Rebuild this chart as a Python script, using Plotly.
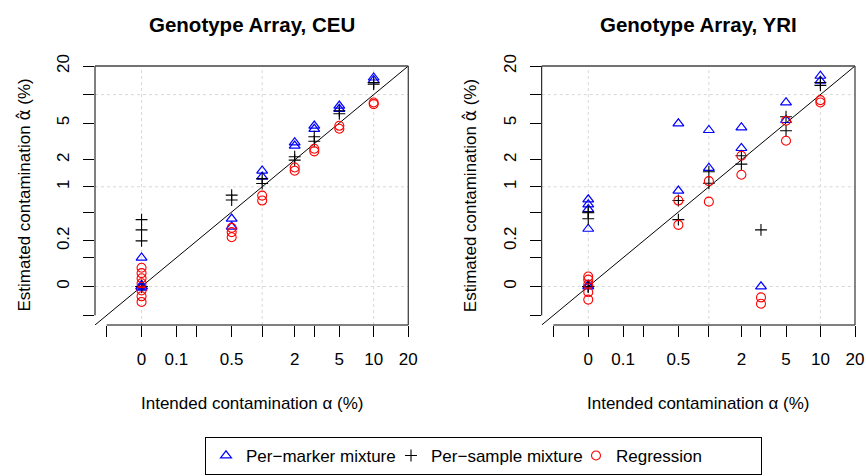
import numpy as np
import plotly.graph_objects as go

# ---------------- data (percent) ----------------
# CEU panel
ceu_marker_x = [0, 0, 0, 0, 0, 0, 0, 0.5, 0.5, 1, 1, 2, 2, 3, 3, 5, 5, 10, 10]
ceu_marker_y = [0.1, 0.0, 0.0, 0.004, 0.0, -0.003, 0.0, 0.41, 0.32, 1.52, 1.30, 3.1, 2.85, 4.67, 4.31, 7.61, 7.03, 15.1, 14.2]
ceu_sample_x = [0, 0, 0, 0, 0, 0, 0, 0.5, 0.5, 1, 1, 2, 2, 3, 3, 5, 5, 10, 10]
ceu_sample_y = [0.4, 0.29, 0.2, 0.0, 0.0, 0.0, 0.0, 0.80, 0.70, 1.24, 1.09, 2.17, 1.99, 3.56, 3.19, 6.74, 6.27, 13.4, 12.9]
ceu_regr_x = [0, 0, 0, 0, 0, 0, 0, 0.5, 0.5, 0.5, 1, 1, 2, 2, 3, 3, 5, 5, 10, 10]
ceu_regr_y = [0.057, 0.038, 0.022, 0.008, -0.009, -0.021, -0.031, 0.31, 0.27, 0.227, 0.79, 0.69, 1.65, 1.52, 2.65, 2.48, 4.67, 4.34, 8.26, 7.94]

# YRI panel
yri_marker_x = [0, 0, 0, 0, 0, 0, 0.5, 0.5, 1, 1, 2, 2, 3, 5, 5, 10, 10]
yri_marker_y = [0.71, 0.62, 0.54, 0.30, 0.0, 0.004, 4.94, 0.90, 4.2, 1.63, 4.48, 2.69, 0.0, 8.26, 5.37, 15.75, 13.96]
yri_sample_x = [0, 0, 0, 0, 0, 0, 0.5, 0.5, 1, 1, 2, 2, 3, 5, 5, 10, 10]
yri_sample_y = [0.50, 0.49, 0.41, 0.0, 0.0, 0.0, 0.69, 0.40, 1.48, 1.10, 2.22, 1.80, 0.29, 5.83, 4.14, 13.4, 12.5]
yri_regr_x = [0, 0, 0, 0, 0, 0.5, 0.5, 1, 1, 2, 2, 3, 3, 5, 5, 10, 10]
yri_regr_y = [0.027, 0.018, 0.005, -0.013, -0.027, 0.69, 0.34, 1.16, 0.67, 2.22, 1.37, -0.023, -0.034, 5.28, 3.23, 8.75, 8.26]

# axis ticks (percent) and labels
x_tick_vals = [-0.05, 0, 0.1, 0.2, 0.5, 1, 2, 3, 5, 10, 20]
x_tick_text = ["", "0", "0.1", "", "0.5", "", "2", "", "5", "10", "20"]
y_tick_vals = [-0.05, 0, 0.1, 0.2, 0.5, 1, 2, 5, 10, 20]
y_tick_text = ["", "0", "", "0.2", "", "1", "2", "5", "", "20"]
grid_vals = [0, 1, 10]

titles = ["Genotype Array, CEU", "Genotype Array, YRI"]
x_title = "Intended contamination α (%)"
y_title = ("Estimated contamination "
           "<span style='font-family:DejaVu Sans'>α\u0302</span> (%)")
series_names = ["Per\u2212marker mixture", "Per\u2212sample mixture", "Regression"]

# ---------------- helpers ----------------
OFFSET = 0.1


def tf(v):
    return np.log10(np.asarray(v, dtype=float) + OFFSET)


W, H = 866, 476
FONT = "Liberation Sans, Arial, Helvetica, sans-serif"
LO = -1.402
HI = float(tf(20))
panels_px = [(95.0, 408.3), (541.7, 855.0)]
top_px, bot_px = 66.0, 325.0
ydom = [1 - bot_px / H, 1 - top_px / H]

fig = go.Figure()

styles = [
    dict(symbol="triangle-up-open", color="#0000FF", size=9.5, line=dict(width=1.2, color="#0000FF")),
    dict(symbol="cross-thin-open", color="black", size=8.5, line=dict(width=1.1, color="black")),
    dict(symbol="circle-open", color="#FF0000", size=9, line=dict(width=1.1, color="#FF0000")),
]

panel_data = [
    [(ceu_marker_x, ceu_marker_y), (ceu_sample_x, ceu_sample_y), (ceu_regr_x, ceu_regr_y)],
    [(yri_marker_x, yri_marker_y), (yri_sample_x, yri_sample_y), (yri_regr_x, yri_regr_y)],
]

for p, series in enumerate(panel_data):
    xa = "x" if p == 0 else "x2"
    ya = "y" if p == 0 else "y2"
    for s, (xs, ys) in enumerate(series):
        fig.add_trace(go.Scatter(
            x=tf(xs), y=tf(ys), mode="markers", xaxis=xa, yaxis=ya,
            name=series_names[s], legendgroup=series_names[s], showlegend=(p == 0),
            marker=styles[s], cliponaxis=False, hoverinfo="skip",
        ))

shapes = []
annotations = []


def xp(p, v):
    x0, x1 = panels_px[p]
    return (x0 + (v - LO) / (HI - LO) * (x1 - x0)) / W


def yp(v):
    return 1 - (bot_px - (v - LO) / (HI - LO) * (bot_px - top_px)) / H


axis_common = dict(
    range=[LO, HI], showgrid=False, zeroline=False, showline=False, automargin=False,
    ticks="outside", ticklen=11, tickwidth=1, tickcolor="black",
    tickfont=dict(family=FONT, size=17, color="black"), fixedrange=True,
)

for p in range(2):
    x0, x1 = panels_px[p]
    dom = [x0 / W, x1 / W]
    xa = "xaxis" if p == 0 else "xaxis2"
    ya = "yaxis" if p == 0 else "yaxis2"
    xref = "x" if p == 0 else "x2"
    yref = "y" if p == 0 else "y2"
    fig.layout[xa] = dict(axis_common, domain=dom, anchor=yref,
                          tickvals=list(tf(x_tick_vals)), ticktext=x_tick_text,
                          tickangle=0, ticklabelstandoff=8)
    fig.layout[ya] = dict(axis_common, domain=ydom, anchor=xref,
                          tickvals=list(tf(y_tick_vals)), ticktext=y_tick_text,
                          tickangle=-90, ticklabelstandoff=7)
    # dotted grid
    for g in tf(grid_vals):
        shapes.append(dict(type="line", xref=xref, yref=yref + " domain", x0=g, x1=g, y0=0, y1=1,
                           line=dict(color="#d8d8d8", width=1, dash="dot"), layer="below"))
        shapes.append(dict(type="line", xref=xref + " domain", yref=yref, x0=0, x1=1, y0=g, y1=g,
                           line=dict(color="#d8d8d8", width=1, dash="dot"), layer="below"))
    # identity line
    shapes.append(dict(type="line", xref=xref, yref=yref, x0=LO, y0=LO, x1=HI, y1=HI,
                       line=dict(color="black", width=1), layer="below"))
    # axis lines spanning tick range
    yl0, yl1 = float(tf(y_tick_vals[0])), float(tf(y_tick_vals[-1]))
    xl0, xl1 = float(tf(x_tick_vals[0])), float(tf(x_tick_vals[-1]))
    shapes.append(dict(type="line", xref="paper", yref="paper", x0=dom[0], x1=dom[0],
                       y0=yp(yl0), y1=yp(yl1), line=dict(color="black", width=1)))
    shapes.append(dict(type="line", xref="paper", yref="paper", x0=xp(p, xl0), x1=xp(p, xl1),
                       y0=ydom[0], y1=ydom[0], line=dict(color="black", width=1)))
    # top and right border
    shapes.append(dict(type="line", xref="paper", yref="paper", x0=dom[0], x1=dom[1],
                       y0=ydom[1], y1=ydom[1], line=dict(color="#444444", width=1.3)))
    shapes.append(dict(type="line", xref="paper", yref="paper", x0=dom[1], x1=dom[1],
                       y0=ydom[0], y1=ydom[1], line=dict(color="#444444", width=1.3)))
    cx = (dom[0] + dom[1]) / 2
    annotations.append(dict(text="<b>" + titles[p] + "</b>", xref="paper", yref="paper",
                            x=cx, y=1 - 24 / H, showarrow=False, xanchor="center", yanchor="middle",
                            font=dict(family=FONT, size=20.5, color="black")))
    annotations.append(dict(text=x_title, xref="paper", yref="paper",
                            x=cx, y=1 - 403 / H, showarrow=False, xanchor="center", yanchor="middle",
                            font=dict(family=FONT, size=17, color="black")))
    annotations.append(dict(text=y_title, xref="paper", yref="paper",
                            x=(x0 - 72) / W, y=(ydom[0] + ydom[1]) / 2, showarrow=False,
                            xanchor="center", yanchor="middle", textangle=-90,
                            font=dict(family=FONT, size=17, color="black")))

fig.update_layout(
    width=W, height=H,
    margin=dict(l=0, r=0, t=0, b=0, autoexpand=False),
    paper_bgcolor="white", plot_bgcolor="white",
    shapes=shapes, annotations=annotations,
    showlegend=True,
    legend=dict(orientation="h", x=205 / W, xanchor="left", y=1 - 437 / H, yanchor="top",
                entrywidth=140, entrywidthmode="pixels",
                bordercolor="black", borderwidth=1, bgcolor="white",
                font=dict(family=FONT, size=17, color="black"), traceorder="normal"),
)

fig.write_html("out.html")
